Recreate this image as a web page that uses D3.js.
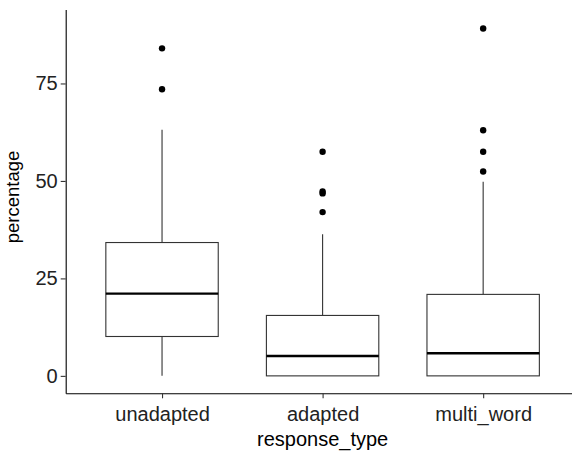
<!DOCTYPE html>
<html>
<head>
<meta charset="utf-8">
<script src="https://cdn.jsdelivr.net/npm/d3@7"></script>
<style>
  body { margin: 0; background: #fff; }
  svg { display: block; font-family: "Liberation Sans", Arial, sans-serif; }
</style>
</head>
<body>
<svg id="chart" width="572" height="451"></svg>
<script>
// box stats
const categories = ["unadapted", "adapted", "multi_word"];
const q1 = [10.1, 0, 0];
const medians = [21.1, 5.1, 5.8];
const q3 = [34.2, 15.5, 20.9];
const whiskerLow = [0, 0, 0];
const whiskerHigh = [63.1, 36.3, 49.8];
const outliers = [
  [84.0, 73.5],
  [57.5, 47.3, 46.8, 42.0],
  [89.1, 63.0, 57.5, 52.4]
];
const yTicks = [0, 25, 50, 75];

const svg = d3.select("#chart");
const padL = 65.7, padR = 579.5, padT = 9.5, padB = 393.3;

const x = d3.scaleLinear().domain([0.4, 3.6]).range([padL, padR]);
const y = d3.scaleLinear().domain([-4.47, 93.97]).range([padB, padT]);
const boxW = x(0.7) - x(0);

const data = categories.map((c, i) => ({
  cat: c, i: i + 1, q1: q1[i], med: medians[i], q3: q3[i],
  lo: whiskerLow[i], hi: whiskerHigh[i], out: outliers[i]
}));

const g = svg.append("g");

const box = g.selectAll(".box").data(data).enter().append("g").attr("class", "box");

// whiskers
box.append("line")
  .attr("x1", d => x(d.i)).attr("x2", d => x(d.i))
  .attr("y1", d => y(d.q3)).attr("y2", d => y(d.hi))
  .attr("stroke", "#333").attr("stroke-width", 1.1);
box.append("line")
  .attr("x1", d => x(d.i)).attr("x2", d => x(d.i))
  .attr("y1", d => y(d.q1)).attr("y2", d => y(d.lo))
  .attr("stroke", "#333").attr("stroke-width", 1.1);

box.append("rect")
  .attr("x", d => x(d.i) - boxW / 2)
  .attr("width", boxW)
  .attr("y", d => y(d.q3))
  .attr("height", d => y(d.q1) - y(d.q3))
  .attr("fill", "#fff").attr("stroke", "#333").attr("stroke-width", 1.1);

box.append("line")
  .attr("x1", d => x(d.i) - boxW / 2).attr("x2", d => x(d.i) + boxW / 2)
  .attr("y1", d => y(d.med)).attr("y2", d => y(d.med))
  .attr("stroke", "#000").attr("stroke-width", 2.3);

box.selectAll("circle").data(d => d.out.map(v => ({ i: d.i, v: v }))).enter()
  .append("circle")
  .attr("cx", d => x(d.i)).attr("cy", d => y(d.v))
  .attr("r", 3.2).attr("fill", "#000");

// axes
const yAxis = g.append("g").attr("transform", "translate(" + padL + ",0)")
  .call(d3.axisLeft(y).tickValues(yTicks).tickSize(5).tickSizeOuter(0).tickPadding(3));
const xAxis = g.append("g").attr("transform", "translate(0," + padB + ")")
  .call(d3.axisBottom(x).tickValues([1, 2, 3]).tickFormat(d => categories[d - 1])
    .tickSize(5).tickSizeOuter(0).tickPadding(8.5));

[yAxis, xAxis].forEach(a => {
  a.select(".domain").attr("stroke", "#000").attr("stroke-width", 1.1);
  a.selectAll(".tick line").attr("stroke", "#333").attr("stroke-width", 1.1);
  a.selectAll("text").attr("fill", "#222").style("font-size", "20px")
    .style("font-family", "'Liberation Sans', Arial, sans-serif");
});

svg.append("text")
  .attr("transform", "translate(19,197) rotate(-90)")
  .attr("text-anchor", "middle")
  .attr("fill", "#000").style("font-size", "18.5px")
  .text("percentage");

svg.append("text")
  .attr("x", x(2)).attr("y", 446)
  .attr("text-anchor", "middle")
  .attr("fill", "#000").style("font-size", "20px")
  .text("response_type");
</script>
</body>
</html>
